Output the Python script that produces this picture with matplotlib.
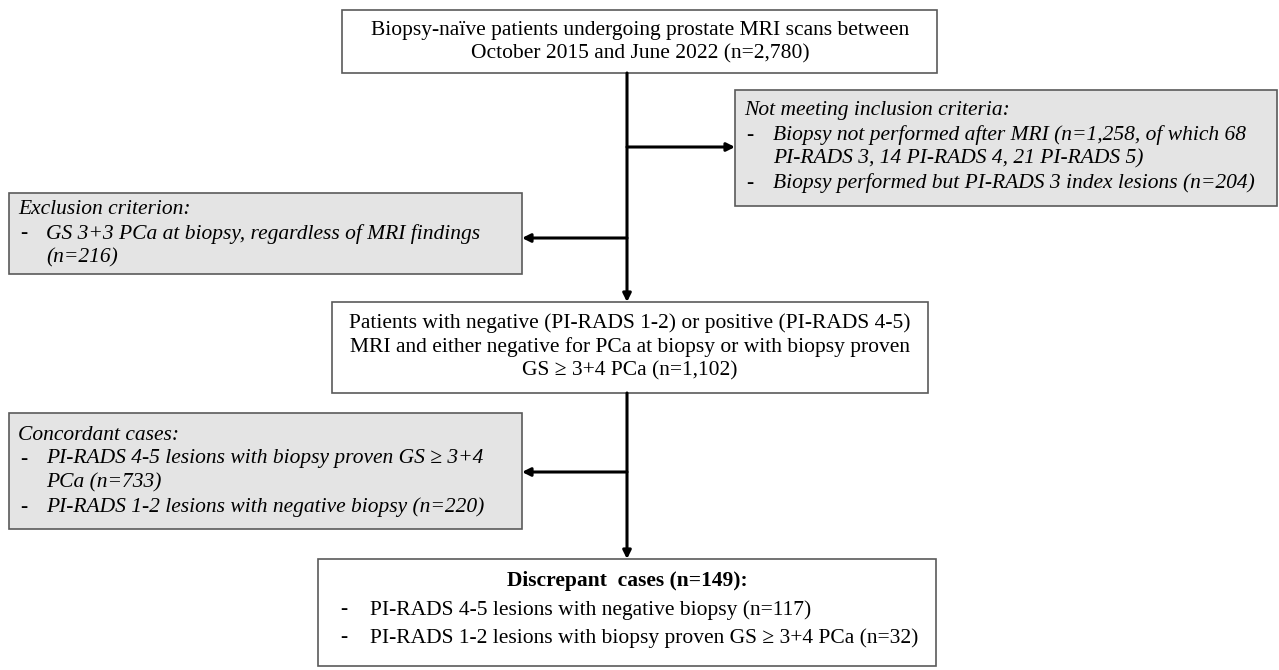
import matplotlib.pyplot as plt
from matplotlib.patches import Rectangle

plt.rcParams['font.family'] = ['Liberation Serif']

# patient counts at each step of the flowchart
n_total = 2780
period = ['October 2015', 'June 2022']
n_no_biopsy = 1258
no_biopsy_pirads = [68, 14, 21]   # PI-RADS 3, 4, 5
n_pirads3_index = 204
n_gs6 = 216
n_included = 1102
n_conc_pos = 733
n_conc_neg = 220
n_discrepant = 149
n_disc_pos = 117
n_disc_neg = 32


def fmt(n):
    return f'{n:,}'


W, H = 1279, 670
fig = plt.figure(figsize=(W / 100, H / 100), dpi=100)
ax = fig.add_axes([0, 0, 1, 1])
ax.set_xlim(0, W)
ax.set_ylim(H, 0)
ax.axis('off')

FS = 15.5
GRAY = '#e4e4e4'
EDGE = '#5a5a5a'


def box(x0, y0, x1, y1, fill='white'):
    ax.add_patch(Rectangle((x0, y0), x1 - x0, y1 - y0, facecolor=fill,
                           edgecolor=EDGE, lw=1.2, zorder=1))


def txt(x, y, s, ha='left', italic=False, bold=False):
    ax.text(x, y, s, ha=ha, va='center', fontsize=FS, family='Liberation Serif',
            style='italic' if italic else 'normal',
            weight='bold' if bold else 'normal', zorder=3)


def arrow(x0, y0, x1, y1, head=True):
    ax.annotate('', xy=(x1, y1), xytext=(x0, y0),
                arrowprops=dict(arrowstyle='-|>' if head else '-', color='black',
                                lw=2.2, mutation_scale=12, shrinkA=0, shrinkB=0),
                zorder=2)


XC = 627

# top box
box(342, 10, 937, 73)
txt(640, 30, 'Biopsy-naïve patients undergoing prostate MRI scans between', ha='center')
txt(640, 54, f'{period[0]} and {period[1]} (n={fmt(n_total)})', ha='center')

# not meeting inclusion criteria
box(735, 90, 1277, 206, GRAY)
txt(744, 111, 'Not meeting inclusion criteria:', italic=True)
txt(746, 135, '-', italic=True)
txt(773, 135, f'Biopsy not performed after MRI (n={fmt(n_no_biopsy)}, of which {no_biopsy_pirads[0]}', italic=True)
txt(773, 159, f'PI-RADS 3, {no_biopsy_pirads[1]} PI-RADS 4, {no_biopsy_pirads[2]} PI-RADS 5)', italic=True)
txt(746, 183, '-', italic=True)
txt(773, 183, f'Biopsy performed but PI-RADS 3 index lesions (n={n_pirads3_index})', italic=True)

# exclusion criterion
box(9, 193, 522, 274, GRAY)
txt(18, 210, 'Exclusion criterion:', italic=True)
txt(20, 234, '-', italic=True)
txt(46, 234, 'GS 3+3 PCa at biopsy, regardless of MRI findings', italic=True)
txt(46, 258, f'(n={n_gs6})', italic=True)

# included patients
box(332, 302, 928, 393)
txt(630, 323, 'Patients with negative (PI-RADS 1-2) or positive (PI-RADS 4-5)', ha='center')
txt(630, 347, 'MRI and either negative for PCa at biopsy or with biopsy proven', ha='center')
txt(630, 371, f'GS \u2265 3+4 PCa (n={fmt(n_included)})', ha='center')

# concordant cases
box(9, 413, 522, 529, GRAY)
txt(18, 435, 'Concordant cases:', italic=True)
txt(20, 459, '-', italic=True)
txt(46, 459, 'PI-RADS 4-5 lesions with biopsy proven GS \u2265 3+4', italic=True)
txt(46, 483, f'PCa (n={n_conc_pos})', italic=True)
txt(20, 507, '-', italic=True)
txt(46, 507, f'PI-RADS 1-2 lesions with negative biopsy (n={n_conc_neg})', italic=True)

# discrepant cases
box(318, 559, 936, 666)
txt(XC, 581, f'Discrepant  cases (n={n_discrepant}):', ha='center', bold=True)
txt(340, 610, '-', )
txt(370, 610, f'PI-RADS 4-5 lesions with negative biopsy (n={n_disc_pos})')
txt(340, 638, '-')
txt(370, 638, f'PI-RADS 1-2 lesions with biopsy proven GS \u2265 3+4 PCa (n={n_disc_neg})')

# connectors
arrow(XC, 73, XC, 302)
arrow(XC, 393, XC, 559)
arrow(XC, 147, 735, 147)
arrow(XC, 238, 522, 238)
arrow(XC, 472, 522, 472)

fig.savefig('out.png', dpi=100)
